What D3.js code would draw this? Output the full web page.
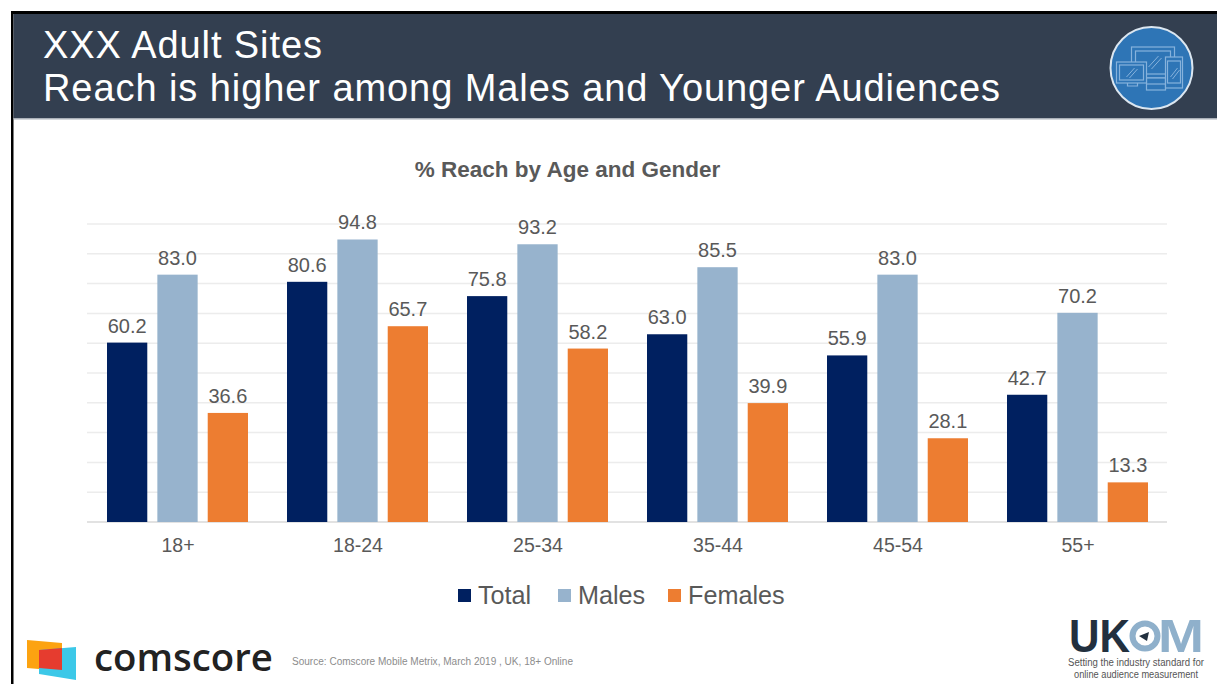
<!DOCTYPE html>
<html>
<head>
<meta charset="utf-8">
<script src="https://cdn.jsdelivr.net/npm/d3@7"></script>
<style>
  html, body { margin: 0; padding: 0; background: #fff; }
  svg { display: block; font-family: "Liberation Sans", Arial, sans-serif; }
</style>
</head>
<body>
<svg id="chart" width="1217" height="684"></svg>
<script>
const categories = ['18+', '18-24', '25-34', '35-44', '45-54', '55+'];
const seriesNames = ['Total', 'Males', 'Females'];
const totalValues = [60.2, 80.6, 75.8, 63.0, 55.9, 42.7];
const maleValues = [83.0, 94.8, 93.2, 85.5, 83.0, 70.2];
const femaleValues = [36.6, 65.7, 58.2, 39.9, 28.1, 13.3];
const yTicks = [0, 10, 20, 30, 40, 50, 60, 70, 80, 90, 100];
const seriesColors = ['#002060', '#97b3cd', '#ed7d31'];

const allValues = [totalValues, maleValues, femaleValues];
const svg = d3.select('#chart');

const margin = {left: 87, right: 1167, top: 224, bottom: 522};

const x0 = d3.scaleBand().domain(categories).range([margin.left, margin.right]);
const x1 = d3.scaleBand().domain(seriesNames).range([20, 161]).paddingInner(0.2);
const y = d3.scaleLinear().domain([0, 100]).range([margin.bottom, margin.top]);

// page frame and header
svg.append('rect').attr('x', 11).attr('y', 11).attr('width', 1206).attr('height', 3).attr('fill', '#000');
svg.append('rect').attr('x', 11).attr('y', 11).attr('width', 2.5).attr('height', 673).attr('fill', '#000');
svg.append('rect').attr('x', 13.5).attr('y', 14).attr('width', 1204).attr('height', 104).attr('fill', '#333f50');
svg.append('rect').attr('x', 13.5).attr('y', 118).attr('width', 1204).attr('height', 1.5).attr('fill', '#aab0b8');

const title = svg.append('g').attr('fill', '#fff').attr('font-size', 38);
title.append('text').attr('x', 43).attr('y', 58).attr('textLength', 279).text('XXX Adult Sites');
title.append('text').attr('x', 43).attr('y', 101).attr('textLength', 957).text('Reach is higher among Males and Younger Audiences');

// device icon
const icon = svg.append('g').attr('transform', 'translate(1151.5,68)');
icon.append('circle').attr('r', 41).attr('fill', '#2e75b6').attr('stroke', '#dbe6f0').attr('stroke-width', 2);
const glyph = icon.append('g').attr('fill', '#2e75b6').attr('stroke', '#86b2dc').attr('stroke-width', 1.2);
glyph.append('rect').attr('x', -20).attr('y', -21).attr('width', 43).attr('height', 31);
glyph.append('rect').attr('x', -16).attr('y', -17).attr('width', 35).attr('height', 23);
glyph.append('rect').attr('x', -5).attr('y', 10).attr('width', 19).attr('height', 12);
glyph.append('path').attr('d', 'M-5 16 H14').attr('fill', 'none');
glyph.append('rect').attr('x', -35).attr('y', -6).attr('width', 30).attr('height', 21);
glyph.append('rect').attr('x', -32).attr('y', -3).attr('width', 24).attr('height', 15);
glyph.append('path').attr('d', 'M-24 15 V18 H-14 V15').attr('fill', 'none');
glyph.append('rect').attr('x', 14).attr('y', -11).attr('width', 17).attr('height', 31);
glyph.append('rect').attr('x', 16).attr('y', -7).attr('width', 13).attr('height', 22);
glyph.append('path').attr('d', 'M-3 -1 L7 -12 M0 1 L10 -10 M-25 9 L-17 0 M-22 10 L-14 1 M19 9 L26 0 M21 11 L28 2').attr('fill', 'none').attr('stroke-width', 1);

svg.append('text').attr('x', 567.5).attr('y', 177).attr('text-anchor', 'middle')
  .attr('font-size', 22.5).attr('font-weight', 700).attr('fill', '#595959')
  .text('% Reach by Age and Gender');

// gridlines
svg.append('g').selectAll('line').data(yTicks).join('line')
  .attr('x1', margin.left).attr('x2', margin.right)
  .attr('y1', d => y(d)).attr('y2', d => y(d))
  .attr('stroke', d => (d === 0 ? '#d9d9d9' : '#ececec'))
  .attr('stroke-width', 1.5);

// bars
const groups = svg.append('g').selectAll('g').data(categories).join('g')
  .attr('transform', d => `translate(${x0(d)},0)`);

seriesNames.forEach((name, s) => {
  groups.append('rect')
    .attr('x', x1(name))
    .attr('width', x1.bandwidth())
    .attr('y', (d, i) => y(allValues[s][i]))
    .attr('height', (d, i) => y(0) - y(allValues[s][i]))
    .attr('fill', seriesColors[s]);

  groups.append('text')
    .attr('x', x1(name) + x1.bandwidth() / 2)
    .attr('y', (d, i) => y(allValues[s][i]) - 10)
    .attr('text-anchor', 'middle')
    .attr('font-size', 20)
    .attr('fill', '#595959')
    .text((d, i) => allValues[s][i].toFixed(1));
});

// category axis
const xAxis = d3.axisBottom(x0).tickSize(0);
svg.append('g')
  .attr('transform', `translate(0,${margin.bottom})`)
  .call(xAxis)
  .call(g => g.select('.domain').remove())
  .selectAll('text')
  .attr('y', 16)
  .attr('x', 1)
  .attr('font-family', '"Liberation Sans", Arial, sans-serif')
  .attr('font-size', 19.5)
  .attr('fill', '#595959');

// legend
const legendX = d3.scaleOrdinal().domain(seriesNames).range([458, 558, 668]);
const legend = svg.append('g').selectAll('g').data(seriesNames).join('g')
  .attr('transform', d => `translate(${legendX(d)},589)`);
legend.append('rect').attr('width', 13).attr('height', 13).attr('fill', (d, i) => seriesColors[i]);
legend.append('text').attr('x', 20).attr('y', 15).attr('font-size', 25.2).attr('fill', '#595959').text(d => d);

// comscore logo
const logo = svg.append('g');
logo.append('path').attr('d', 'M27 640 L62 643 L62 671 L27 668 Z').attr('fill', '#fca311');
logo.append('path').attr('d', 'M39 650 L76 647 L76 680 L39 674 Z').attr('fill', '#3cc8e8');
logo.append('path').attr('d', 'M39 650 L62 648 L62 670 L39 668 Z').attr('fill', '#e63c2f');
svg.append('text').attr('x', 94).attr('y', 671).attr('font-family', '"Open Sans", sans-serif')
  .attr('font-size', 38).attr('font-weight', 600).attr('fill', '#222')
  .attr('textLength', 179).attr('lengthAdjust', 'spacingAndGlyphs').text('comscore');
svg.append('text').attr('x', 292).attr('y', 665).attr('font-size', 10).attr('fill', '#8c8c8c')
  .attr('textLength', 281).attr('lengthAdjust', 'spacingAndGlyphs').text('Source: Comscore Mobile Metrix, March 2019 , UK, 18+ Online');

// UKOM logo
const ukom = svg.append('g').attr('font-weight', 700).attr('font-size', 46);
ukom.append('text').attr('x', 1069).attr('y', 652).attr('fill', '#22303f')
  .attr('textLength', 61).attr('lengthAdjust', 'spacingAndGlyphs').text('UK');
ukom.append('text').attr('x', 1158).attr('y', 652).attr('fill', '#8fb0cb')
  .attr('textLength', 46).attr('lengthAdjust', 'spacingAndGlyphs').text('M');
svg.append('circle').attr('cx', 1145).attr('cy', 636).attr('r', 12.5).attr('fill', 'none').attr('stroke', '#8fb0cb').attr('stroke-width', 6);
svg.append('path').attr('d', 'M1139 636 L1149 632 L1147 641 Z').attr('fill', '#22303f');
const tag = svg.append('g').attr('font-size', 10).attr('fill', '#555').attr('text-anchor', 'middle');
tag.append('text').attr('x', 1136).attr('y', 666).attr('textLength', 136).attr('lengthAdjust', 'spacingAndGlyphs').text('Setting the industry standard for');
tag.append('text').attr('x', 1136).attr('y', 678).attr('textLength', 124).attr('lengthAdjust', 'spacingAndGlyphs').text('online audience measurement');
</script>
</body>
</html>
